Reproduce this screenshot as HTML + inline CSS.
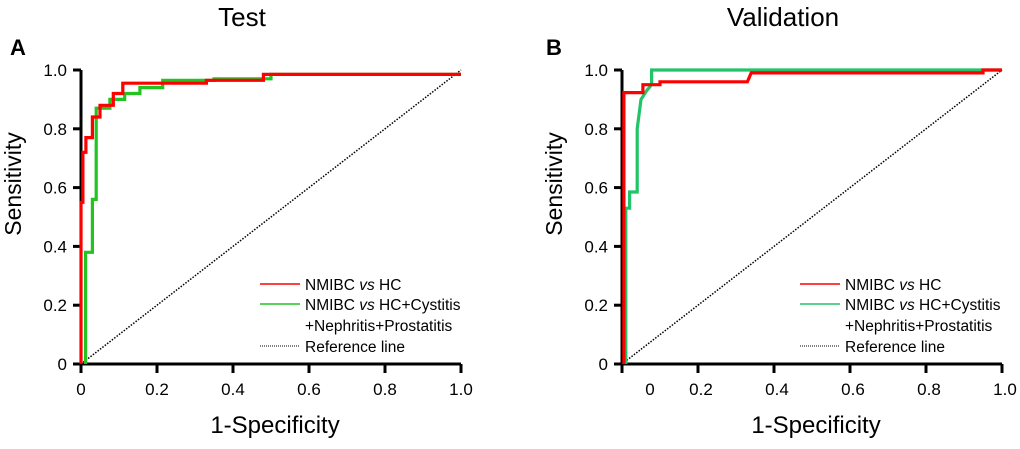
<!DOCTYPE html>
<html><head><meta charset="utf-8"><style>
body{margin:0;background:#fff;width:1020px;height:444px;overflow:hidden;font-family:"Liberation Sans",Arial,sans-serif}
svg text{font-family:"Liberation Sans",Arial,sans-serif}
</style></head><body>
<svg id="c" width="1020" height="444"></svg>
<script>
const ticks=[0,0.2,0.4,0.6,0.8,1.0];
const xTickLabelsA=["0","0.2","0.4","0.6","0.8","1.0"];
const yTickLabels=["0","0.2","0.4","0.6","0.8","1.0"];
const testRedFpr=[0,0,0.005,0.005,0.013,0.013,0.03,0.03,0.05,0.05,0.085,0.085,0.11,0.11,0.33,0.33,0.48,0.48,1.0];
const testRedTpr=[0,0.55,0.55,0.72,0.72,0.77,0.77,0.84,0.84,0.88,0.88,0.92,0.92,0.955,0.955,0.965,0.965,0.985,0.985];
const testGreenFpr=[0.012,0.012,0.03,0.03,0.04,0.04,0.076,0.076,0.115,0.115,0.155,0.155,0.215,0.215,0.35,0.35,0.5,0.5,1.0];
const testGreenTpr=[0,0.38,0.38,0.56,0.56,0.87,0.87,0.9,0.9,0.92,0.92,0.94,0.94,0.965,0.965,0.97,0.97,0.985,0.985];
const valRedFpr=[0.005,0.005,0.055,0.055,0.1,0.1,0.33,0.34,0.95,0.95,1.0];
const valRedTpr=[0,0.923,0.923,0.95,0.95,0.96,0.96,0.99,0.99,1.0,1.0];
const valGreenFpr=[0.01,0.01,0.02,0.02,0.04,0.04,0.05,0.065,0.078,0.078,1.0];
const valGreenTpr=[0,0.53,0.53,0.585,0.585,0.8,0.9,0.93,0.95,1.0,1.0];

const NS="http://www.w3.org/2000/svg";
const svg=document.getElementById('c');
function mk(tag,attrs,parent){const e=document.createElementNS(NS,tag);for(const k in attrs)e.setAttribute(k,attrs[k]);(parent||svg).appendChild(e);return e;}
function txt(s,attrs){const e=mk('text',attrs);e.textContent=s;return e;}

function panel(p){
  const X0=p.x0,X1=p.x0+380,Y0=364,Y1=70;
  const sx=v=>X0+v*(X1-X0), sy=v=>Y0-v*(Y0-Y1);
  const g=mk('g',{});
  
  
  const ax=mk('path',{d:`M${X0} ${Y1}H${X0-8}M${X0} ${Y1}V${Y0}H${X1}`,stroke:'#000','stroke-width':3,fill:'none'},g);
  
  
  ticks.forEach((t,i)=>{
    mk('line',{x1:X0-8,x2:X0,y1:sy(t),y2:sy(t),stroke:'#000','stroke-width':3},g);
    mk('line',{x1:sx(t),x2:sx(t),y1:Y0,y2:Y0+9,stroke:'#000','stroke-width':3},g);
    const yl=txt(yTickLabels[i],{x:X0-14,y:sy(t)+6,'text-anchor':'end','font-size':17});
    
    
    let lx=sx(t); if(p.id==='panel-b'&&i===0)lx=X0+28; if(p.id==='panel-b'&&i>0)lx+=3;
    const xl=txt(xTickLabelsA[i],{x:lx,y:395,'text-anchor':'middle','font-size':17});
    
    
  });
  const rl=mk('line',{x1:sx(0),y1:sy(0),x2:sx(1),y2:sy(1),stroke:'#000','stroke-width':1.5,'stroke-dasharray':'1.5 1.5'},g);
  
  
  const line=(fx,ty,col,name)=>{const d=fx.map((v,i)=>(i?'L':'M')+sx(v).toFixed(1)+' '+sy(ty[i]).toFixed(1)).join('');
    const e=mk('path',{d,stroke:col,'stroke-width':3.2,fill:'none'},g);
    
    };
  line(p.gf,p.gt,p.green,p.id+'-green-curve');
  line(p.rf,p.rt,'#ff0000',p.id+'-red-curve');
  const t=txt(p.title,{x:p.tx,y:26,'text-anchor':'middle','font-size':26});
  
  
  const L=txt(p.letter,{x:p.lx,y:55,'font-size':22,'font-weight':'bold'});
  
  
  const yt=txt('Sensitivity',{x:0,y:0,'font-size':23,'text-anchor':'middle',transform:`translate(${p.x0-60},184) rotate(-90)`});
  
  
  const xt=txt('1-Specificity',{x:p.x0+194,y:433,'font-size':24,'text-anchor':'middle'});
  
  
  const lg=p.legX;
  mk('line',{x1:lg,x2:lg+40,y1:284,y2:284,stroke:'#ff0000','stroke-width':1.5},g);
  mk('line',{x1:lg,x2:lg+40,y1:304,y2:304,stroke:p.green,'stroke-width':1.5},g);
  mk('line',{x1:lg,x2:lg+40,y1:346,y2:346,stroke:'#000','stroke-width':1,'stroke-dasharray':'1 1'},g);
  const e1=mk('text',{x:lg+45,y:290,'font-size':15.5});e1.innerHTML='NMIBC <tspan font-style="italic">vs</tspan> HC';
  
  
  const e2=mk('text',{x:lg+45,y:310,'font-size':15.5});e2.innerHTML='NMIBC <tspan font-style="italic">vs</tspan> HC+Cystitis';
  
  
  const e3=txt('+Nephritis+Prostatitis',{x:lg+45,y:331,'font-size':15.5});
  
  
  const e4=txt('Reference line',{x:lg+45,y:352,'font-size':15.5});
  
  
}
panel({id:'panel-a',x0:81,title:'Test',tx:242,letter:'A',lx:10,legX:260,green:'#22c422',
  rf:testRedFpr,rt:testRedTpr,gf:testGreenFpr,gt:testGreenTpr});
panel({id:'panel-b',x0:622,title:'Validation',tx:783,letter:'B',lx:546,legX:800,green:'#22c468',
  rf:valRedFpr,rt:valRedTpr,gf:valGreenFpr,gt:valGreenTpr});
</script>
</body></html>
